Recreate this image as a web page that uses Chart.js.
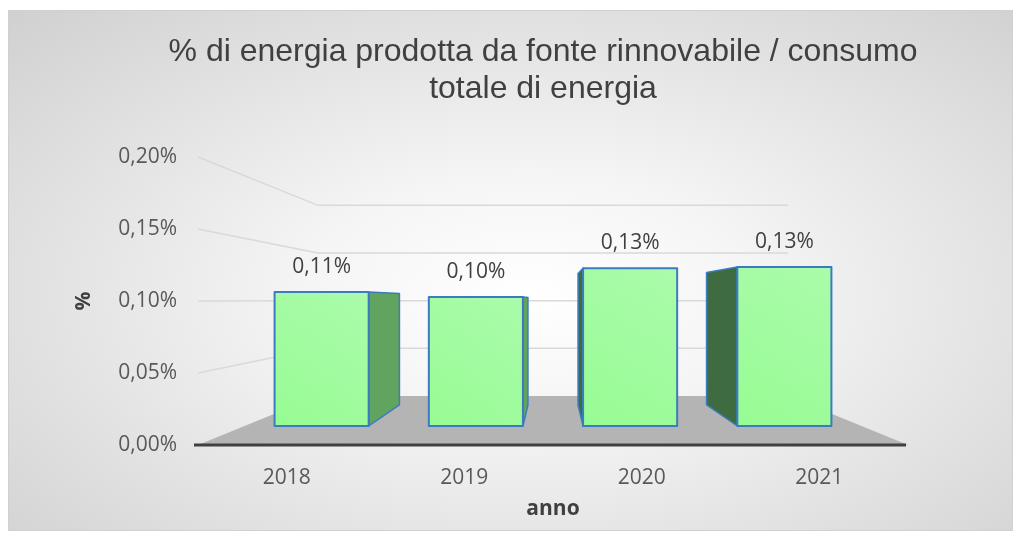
<!DOCTYPE html>
<html>
<head>
<meta charset="utf-8">
<script src="https://cdn.jsdelivr.net/npm/chart.js@4/dist/chart.umd.min.js"></script>
<style>
  html, body { margin: 0; padding: 0; background: #fff; }
  #frame {
    position: absolute; left: 8px; top: 10px; width: 1003px; height: 519px;
    border: 1px solid #d0d0d0;
    background: radial-gradient(ellipse farthest-corner at 52% 55%, #ffffff 0%, #f5f5f5 30%, #d0d0d0 100%);
  }
  #wrap { position: absolute; left: 0; top: 0; width: 1019px; height: 540px; }
</style>
</head>
<body>
<div id="frame"></div>
<div id="wrap"><canvas id="chart" width="1019" height="540"></canvas></div>
<script>
const years = ["2018", "2019", "2020", "2021"];
const shares = [0.107, 0.103, 0.126, 0.127]; // % values
const yMin = 0;
const yMax = 0.2;
const yStep = 0.05;

const fmt = (v) => v.toFixed(2).replace(".", ",") + "%";

// perspective of the 3D box (front plane = chart area)
const VP = { x: 553, y: 300 };
const S_WALL = 0.662;
const S_BAR_FRONT = 0.869;
const S_BAR_BACK = 0.724;
const proj = (x, y, s) => [VP.x + (x - VP.x) * s, VP.y + (y - VP.y) * s];

function poly(ctx, pts, fill, stroke, lw) {
  ctx.beginPath();
  ctx.moveTo(pts[0][0], pts[0][1]);
  for (let i = 1; i < pts.length; i++) ctx.lineTo(pts[i][0], pts[i][1]);
  ctx.closePath();
  if (fill) { ctx.fillStyle = fill; ctx.fill(); }
  if (stroke) { ctx.strokeStyle = stroke; ctx.lineWidth = lw; ctx.lineJoin = "round"; ctx.stroke(); }
}

const box3d = {
  id: "box3d",
  beforeDatasetsDraw(chart) {
    const ctx = chart.ctx;
    const { left, right, bottom } = chart.chartArea;
    const y = chart.scales.y;

    ctx.save();
    // wall gridlines
    ctx.strokeStyle = "#d9d9d9";
    ctx.lineWidth = 1.5;
    y.ticks.forEach((t) => {
      if (t.value === yMin) return;
      const yf = y.getPixelForValue(t.value);
      const a = proj(left, yf, S_WALL);
      const b = proj(right, yf, S_WALL);
      ctx.beginPath();
      ctx.moveTo(left, yf);
      ctx.lineTo(a[0], a[1]);
      ctx.lineTo(b[0], b[1]);
      ctx.stroke();
    });

    // floor
    poly(ctx, [[left, bottom], [right, bottom], proj(right, bottom, S_WALL), proj(left, bottom, S_WALL)], "#b4b4b4");
    ctx.strokeStyle = "#404040";
    ctx.lineWidth = 3;
    ctx.beginPath();
    ctx.moveTo(left - 4, bottom);
    ctx.lineTo(right - 2, bottom);
    ctx.stroke();

    // bars
    const meta = chart.getDatasetMeta(0);
    meta.data.forEach((el, i) => {
      const xl = el.x - el.width / 2;
      const xr = el.x + el.width / 2;
      const yt = el.y;
      const yb = el.base;
      const fTL = proj(xl, yt, S_BAR_FRONT), fTR = proj(xr, yt, S_BAR_FRONT);
      const fBL = proj(xl, yb, S_BAR_FRONT), fBR = proj(xr, yb, S_BAR_FRONT);
      const bTL = proj(xl, yt, S_BAR_BACK), bTR = proj(xr, yt, S_BAR_BACK);
      const bBL = proj(xl, yb, S_BAR_BACK), bBR = proj(xr, yb, S_BAR_BACK);
      const edge = "#3b7bbf";

      if (el.x < VP.x) {
        poly(ctx, [fTR, bTR, bBR, fBR], "#60a460", edge, 1.5);
      } else {
        poly(ctx, [fTL, bTL, bBL, fBL], "#3e6b3f", edge, 1.5);
      }
      if (fTL[1] > VP.y) {
        poly(ctx, [fTL, fTR, bTR, bTL], "#c2fdc2", edge, 1.5);
      }
      const g = ctx.createLinearGradient(fBL[0], fBL[1], fTR[0], fTR[1]);
      g.addColorStop(0, "#97fc93");
      g.addColorStop(1, "#abfbab");
      poly(ctx, [fTL, fTR, fBR, fBL], g, edge, 2);

      ctx.fillStyle = "#404040";
      ctx.font = "21px 'Open Sans'";
      ctx.textAlign = "center";
      ctx.textBaseline = "middle";
      ctx.fillText(fmt(shares[i]), (fTL[0] + fTR[0]) / 2, fTL[1] - 25);
    });
    ctx.restore();
  },
};

new Chart(document.getElementById("chart"), {
  type: "bar",
  data: {
    labels: years,
    datasets: [{
      label: "%",
      data: shares,
      yAxisID: "y",
      backgroundColor: "rgba(0,0,0,0)",
      borderWidth: 0,
      barPercentage: 0.61,
      categoryPercentage: 1,
    }],
  },
  options: {
    responsive: false,
    animation: false,
    layout: { padding: { left: 67, right: 0, top: 0, bottom: 0 } },
    plugins: {
      legend: { display: false },
      tooltip: { enabled: false },
      title: {
        display: true,
        text: ["% di energia prodotta da fonte rinnovabile / consumo", "totale di energia"],
        color: "#404040",
        font: { family: "'Liberation Sans'", size: 32, weight: "normal", lineHeight: 1.156 },
        padding: { top: 33.5, bottom: 49.5 },
      },
    },
    scales: {
      x: {
        grid: { display: false, drawTicks: false },
        border: { display: false },
        ticks: { color: "#595959", font: { family: "'Open Sans'", size: 21 }, padding: 20 },
        title: {
          display: true, text: "anno", color: "#404040",
          font: { family: "'Open Sans'", size: 21, weight: "bold" },
          padding: { top: 0, bottom: 18 },
        },
        afterFit(s) { s.height = 95; },
      },
      y: {
        position: "left",
        min: yMin, max: yMax,
        grid: { display: false, drawTicks: false },
        border: { display: false },
        ticks: { stepSize: yStep, color: "#595959", font: { family: "'Open Sans'", size: 21 }, padding: 21, callback: (v) => fmt(v) },
        title: {
          display: true, text: "%", color: "#404040",
          font: { family: "'Open Sans'", size: 21, weight: "bold" },
          padding: { top: 4, bottom: 0 },
        },
        afterFit(s) { s.width = 131; },
      },
      // empty spacer on the right, keeps the plot narrower than the title
      yRight: {
        position: "right",
        grid: { display: false, drawTicks: false },
        border: { display: false },
        ticks: { display: false },
        afterFit(s) { s.width = 111; },
      },
    },
  },
  plugins: [box3d],
});
</script>
</body>
</html>
